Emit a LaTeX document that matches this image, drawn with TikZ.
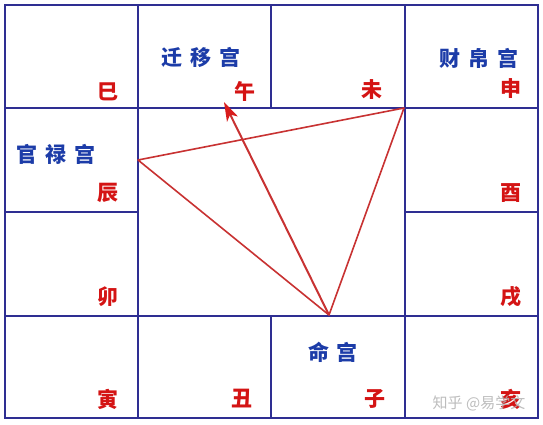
\documentclass[tikz,border=0pt]{standalone}
\usepackage{fontspec}
\newfontfamily\cjk{Noto Sans CJK SC}
\usetikzlibrary{arrows.meta}
\definecolor{gridblue}{HTML}{2E2E92}
\definecolor{txtblue}{HTML}{1C3CA8}
\definecolor{txtred}{HTML}{D41414}
\definecolor{linered}{HTML}{C83232}
\definecolor{arrred}{HTML}{D81C1C}
\tikzset{
  grid/.style={draw=gridblue, line width=1.8pt},
  branch/.style={font=\cjk\bfseries\fontsize{21}{21}\selectfont, text=txtred, inner sep=0pt},
  palace/.style={font=\cjk\bfseries\fontsize{21}{21}\selectfont, text=txtblue, inner sep=0pt},
  tri/.style={draw=linered, line width=1.6pt, line join=round},
  arr/.style={draw=linered, line width=2pt, -{Stealth[length=19pt,width=12pt,inset=5pt,color=arrred]}},
  wm/.style={font=\cjk\fontsize{15}{15}\selectfont, text=gray!60, inner sep=0pt, opacity=0.85}
}
\begin{document}
\begin{tikzpicture}[x=1pt,y=-1pt]
\useasboundingbox[fill=white] (0,0) rectangle (543,425);
% grid
\draw[grid] (5,5) rectangle (538,418);
\draw[grid] (5,108) -- (538,108);
\draw[grid] (5,316) -- (538,316);
\draw[grid] (5,212) -- (138,212);
\draw[grid] (405,212) -- (538,212);
\draw[grid] (138,5) -- (138,418);
\draw[grid] (405,5) -- (405,418);
\draw[grid] (271,5) -- (271,108);
\draw[grid] (271,316) -- (271,418);
% branches
\node[branch] (si)   at (108,92)  {巳};
\node[branch] (wu)   at (245,91)  {午};
\node[branch] (wei)  at (372,90)  {未};
\node[branch] (shen) at (511,89)  {申};
\node[branch] (chen) at (108,193) {辰};
\node[branch] (you)  at (511,193) {酉};
\node[branch] (mao)  at (108,297) {卯};
\node[branch] (xu)   at (511,297) {戌};
\node[branch] (yin)  at (108,399) {寅};
\node[branch] (chou) at (242,399) {丑};
\node[branch] (zi)   at (375,399) {子};
\node[branch] (hai)  at (511,399) {亥};
% palaces
\node[palace] (qianyi) at (201,57)  {迁\hspace{8pt}移\hspace{8pt}宫};
\node[palace] (guanlu) at (56,154)  {官\hspace{8pt}禄\hspace{8pt}宫};
\node[palace] (caibo)  at (479,58)  {财\hspace{8pt}帛\hspace{8pt}宫};
\node[palace] (ming)   at (333,352) {命\hspace{8pt}宫};
% watermark
\node[wm] (mark) at (479,403) {知乎 @易学文};
% triangle
\coordinate (A) at (138,160);
\coordinate (B) at (404,108);
\coordinate (C) at (329,315);
\coordinate (T) at (224,102);
\draw[tri] (A) -- (B) -- (C) -- cycle;
\draw[arr] (C) -- (T);
\end{tikzpicture}
\end{document}
